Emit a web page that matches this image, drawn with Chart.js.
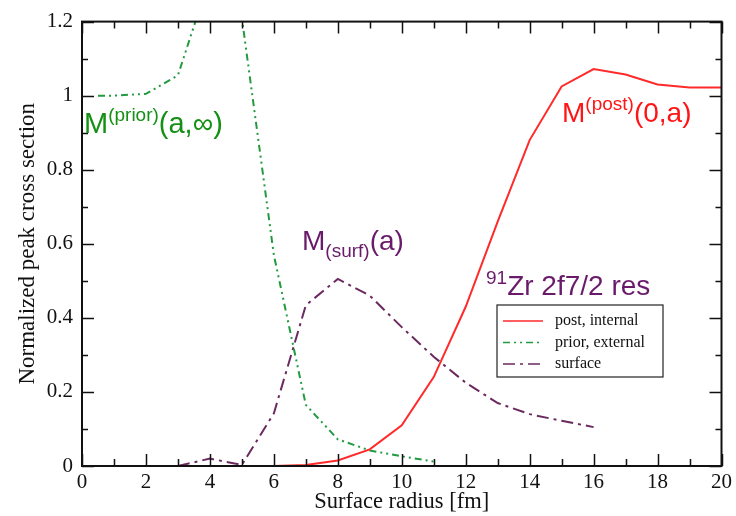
<!DOCTYPE html>
<html>
<head>
<meta charset="utf-8">
<script src="https://cdn.jsdelivr.net/npm/chart.js@4.4.1/dist/chart.umd.min.js"></script>
<style>
  html, body { margin: 0; padding: 0; background: #fff; }
  #wrap { width: 736px; height: 516px; }
</style>
</head>
<body>
<div id="wrap"><canvas id="chart" width="736" height="516"></canvas></div>
<script>
// data
const postRadius = [5, 6, 7, 8, 9, 10, 11, 12, 13, 14, 15, 16, 17, 18, 19, 20];
const postValues = [0, 0, 0.003, 0.015, 0.045, 0.11, 0.24, 0.43, 0.66, 0.88, 1.025, 1.072, 1.057, 1.03, 1.022, 1.022];

const priorRadius = [0.5, 1, 2, 3, 4, 5, 6, 7, 8, 9, 10, 11];
const priorValues = [1.0, 1.0, 1.005, 1.055, 1.32, 1.21, 0.57, 0.165, 0.072, 0.042, 0.026, 0.012];

const surfRadius = [3, 4, 5, 6, 7, 8, 9, 10, 11, 12, 13, 14, 15, 16];
const surfValues = [0, 0.02, 0.003, 0.142, 0.434, 0.505, 0.46, 0.375, 0.295, 0.225, 0.17, 0.14, 0.122, 0.105];

const seriesNames = ["post, internal", "prior, external", "surface"];

const toPoints = (xs, ys) => xs.map((x, i) => ({ x: x, y: ys[i] }));

const RED = "#ff2a2a";
const GREEN = "#229a40";
const PURPLE = "#6b2a5f";

// frame + inward ticks on all four sides
const framePlugin = {
  id: "frame",
  afterDatasetsDraw(chart) {
    const { ctx, chartArea: a, scales } = chart;
    const xs = scales.x, ys = scales.y;
    ctx.save();
    ctx.strokeStyle = "#111";
    ctx.lineWidth = 1.5;
    ctx.beginPath();
    for (let v = 0; v <= 20; v++) {
      const px = Math.round(xs.getPixelForValue(v)) + 0.5;
      const len = v % 2 === 0 ? 12 : 7;
      ctx.moveTo(px, a.bottom); ctx.lineTo(px, a.bottom - len);
      ctx.moveTo(px, a.top); ctx.lineTo(px, a.top + len);
    }
    for (let i = 0; i <= 12; i++) {
      const py = Math.round(ys.getPixelForValue(i / 10)) + 0.5;
      const len = i % 2 === 0 ? 12 : 6;
      ctx.moveTo(a.left, py); ctx.lineTo(a.left + len, py);
      ctx.moveTo(a.right, py); ctx.lineTo(a.right - len, py);
    }
    ctx.stroke();
    ctx.lineWidth = 2;
    ctx.strokeRect(a.left, a.top, a.right - a.left, a.bottom - a.top);
    ctx.restore();
  }
};

// draws pieces of text: [text, size, dy]
function richText(ctx, x, y, parts, color) {
  ctx.fillStyle = color;
  ctx.textBaseline = "alphabetic";
  ctx.textAlign = "left";
  let cx = x;
  parts.forEach(([t, size, dy]) => {
    ctx.font = size + "px 'Liberation Sans', Arial, sans-serif";
    ctx.fillText(t, cx, y + dy);
    cx += ctx.measureText(t).width;
  });
}

const labelPlugin = {
  id: "labels",
  afterDraw(chart) {
    const ctx = chart.ctx;
    ctx.save();
    richText(ctx, 84, 133, [["M", 29, 0], ["(prior)", 19, -12], ["(a,\u221e)", 29, 0]], "#149014");
    richText(ctx, 562, 122, [["M", 28, 0], ["(post)", 19, -12], ["(0,a)", 28, 0]], "#ff1515");
    richText(ctx, 302, 250, [["M", 28, 0], ["(surf)", 19, 7], ["(a)", 28, 0]], "#6a1a6a");
    richText(ctx, 486, 295, [["91", 19, -11], ["Zr 2f7/2 res", 28, 0]], "#6a1a6a");

    // legend box
    const bx = 497, by = 305, bw = 166, bh = 72;
    ctx.fillStyle = "#fff";
    ctx.fillRect(bx, by, bw, bh);
    ctx.strokeStyle = "#222";
    ctx.lineWidth = 1.2;
    ctx.strokeRect(bx, by, bw, bh);
    chart.data.datasets.forEach((ds, i) => {
      const yy = 321 + i * 21.5;
      ctx.strokeStyle = ds.borderColor;
      ctx.lineWidth = 1.6;
      ctx.setLineDash(ds.borderDash || []);
      ctx.beginPath();
      ctx.moveTo(503, yy);
      ctx.lineTo(543, yy);
      ctx.stroke();
      ctx.setLineDash([]);
      ctx.fillStyle = "#111";
      ctx.font = "16px 'Liberation Serif', 'Times New Roman', serif";
      ctx.textBaseline = "middle";
      ctx.fillText(ds.label, 555, yy);
    });
    ctx.restore();
  }
};

const serif = "'Liberation Serif', 'Times New Roman', serif";

new Chart(document.getElementById("chart").getContext("2d"), {
  type: "line",
  data: {
    datasets: [
      {
        label: seriesNames[0],
        data: toPoints(postRadius, postValues),
        borderColor: RED,
        borderWidth: 2,
        pointRadius: 0,
        tension: 0
      },
      {
        label: seriesNames[1],
        data: toPoints(priorRadius, priorValues),
        borderColor: GREEN,
        borderWidth: 2,
        borderDash: [7, 4, 2, 4, 2, 4],
        pointRadius: 0,
        tension: 0
      },
      {
        label: seriesNames[2],
        data: toPoints(surfRadius, surfValues),
        borderColor: PURPLE,
        borderWidth: 2,
        borderDash: [12, 5, 3, 5],
        pointRadius: 0,
        tension: 0
      }
    ]
  },
  options: {
    responsive: false,
    animation: false,
    layout: { padding: { top: 18, right: 14, left: 0, bottom: 0 } },
    plugins: {
      legend: { display: false },
      tooltip: { enabled: false }
    },
    scales: {
      x: {
        type: "linear",
        min: 0,
        max: 20,
        grid: { display: false, drawTicks: false },
        border: { display: false },
        ticks: { stepSize: 2, color: "#111", padding: 4, font: { family: serif, size: 21 } },
        title: { display: true, text: "Surface radius [fm]", color: "#111", padding: { top: 0, bottom: 0 }, font: { family: serif, size: 22.5 } },
        afterFit(scale) { scale.height = 50; }
      },
      y: {
        min: 0,
        max: 1.2,
        grid: { display: false, drawTicks: false },
        border: { display: false },
        ticks: {
          stepSize: 0.2, color: "#111", padding: 9, font: { family: serif, size: 21 },
          callback: (v) => String(Number(v.toFixed(1)))
        },
        title: { display: true, text: "Normalized peak cross section", color: "#111", padding: { top: 14, bottom: 0 }, font: { family: serif, size: 23 } },
        afterFit(scale) { scale.width = 82; }
      }
    }
  },
  plugins: [framePlugin, labelPlugin]
});
</script>
</body>
</html>
